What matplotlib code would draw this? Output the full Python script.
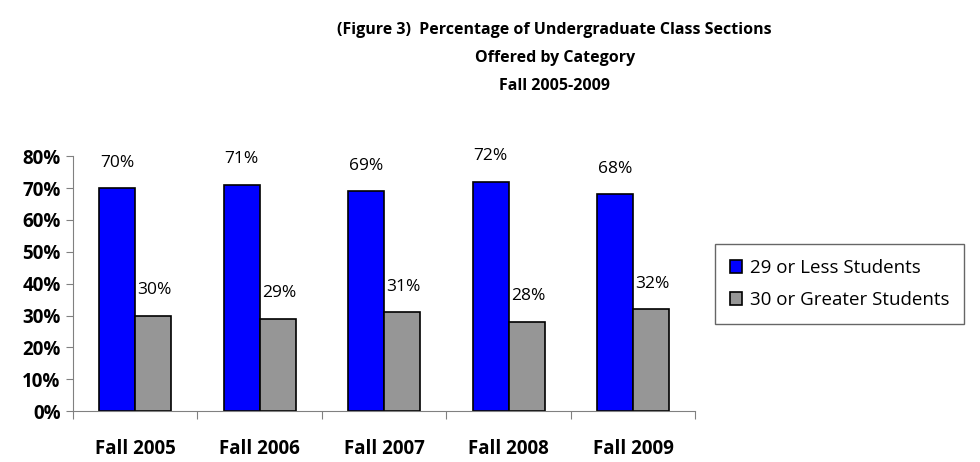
import numpy as np
import matplotlib
matplotlib.use('Agg')
from matplotlib import pyplot as plt
from matplotlib.ticker import FixedLocator, NullFormatter

years = ['Fall 2005', 'Fall 2006', 'Fall 2007', 'Fall 2008', 'Fall 2009']
small = [0.70, 0.71, 0.69, 0.72, 0.68]
large = [0.30, 0.29, 0.31, 0.28, 0.32]
small_lbl = ['70%', '71%', '69%', '72%', '68%']
large_lbl = ['30%', '29%', '31%', '28%', '32%']

plt.rcParams['font.family'] = ['Open Sans', 'DejaVu Sans']

fig = plt.figure(figsize=(9.8, 4.62), dpi=100)
ax = fig.add_axes([0.0745, 0.110, 0.635, 0.552])

x = np.arange(len(years))
w = 0.29
b1 = ax.bar(x - w/2, small, w, color='#0000ff', edgecolor='black', linewidth=1.2,
            label='29 or Less Students')
b2 = ax.bar(x + w/2, large, w, color='#969696', edgecolor='black', linewidth=1.2,
            label='30 or Greater Students')

for i in range(len(years)):
    ax.text(x[i] - w/2, small[i] + 0.055, small_lbl[i], ha='center', va='bottom', fontsize=12.5)
    ax.text(x[i] + w/2 + 0.01, large[i] + 0.055, large_lbl[i], ha='center', va='bottom', fontsize=12.5)

ax.set_xlim(-0.5, len(years) - 0.5)
ax.set_ylim(0, 0.8)
ax.set_yticks(np.arange(0, 0.81, 0.1))
ax.set_yticklabels(['%d%%' % v for v in range(0, 81, 10)], fontsize=13.5, fontweight='bold')
ax.xaxis.set_major_locator(FixedLocator(np.arange(-0.5, len(years), 1.0)))
ax.xaxis.set_major_formatter(NullFormatter())
ax.xaxis.set_minor_locator(FixedLocator(x))
ax.set_xticklabels(years, minor=True, fontsize=13.5, fontweight='bold')
ax.tick_params(axis='x', which='minor', length=0, pad=20)
ax.tick_params(axis='x', which='major', length=6, color='#808080')
ax.tick_params(axis='y', length=5, color='#808080', pad=4)

for s in ['top', 'right']:
    ax.spines[s].set_visible(False)
for s in ['left', 'bottom']:
    ax.spines[s].set_color('#808080')

fig.text(0.566, 0.935, '(Figure 3)  Percentage of Undergraduate Class Sections',
         ha='center', va='center', fontsize=11.5, fontweight='bold')
fig.text(0.566, 0.874, 'Offered by Category', ha='center', va='center', fontsize=11.5, fontweight='bold')
fig.text(0.566, 0.814, 'Fall 2005-2009', ha='center', va='center', fontsize=11.5, fontweight='bold')

leg = fig.legend(handles=[b1, b2], loc='center left', bbox_to_anchor=(0.720, 0.385),
                 fontsize=13.5, frameon=True, fancybox=False, edgecolor='#404040',
                 handlelength=0.65, handleheight=0.65, handletextpad=0.4,
                 labelspacing=0.75, borderpad=0.8)
leg.get_frame().set_linewidth(1.0)

fig.savefig('out.png', dpi=100)
